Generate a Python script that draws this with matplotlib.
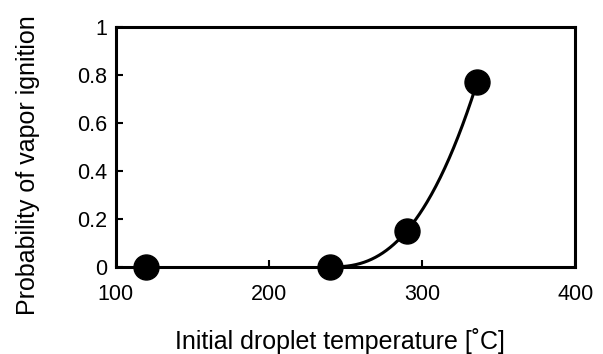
import numpy as np
import matplotlib
matplotlib.use("Agg")
import matplotlib.pyplot as plt

plt.rcParams["font.family"] = ["Liberation Sans", "DejaVu Sans"]

# Measured points
temps = [120, 240, 290, 336]
probs = [0.0, 0.0, 0.15, 0.77]

# Fit curve p = a * (T - T0)^n through the ignition points (T0 = 240)
t0 = temps[1]
n = np.log(probs[3] / probs[2]) / np.log((temps[3] - t0) / (temps[2] - t0))
a = probs[2] / (temps[2] - t0) ** n
t_fit = np.linspace(t0, temps[3], 200)
p_fit = a * (t_fit - t0) ** n

fig = plt.figure(figsize=(6.03, 3.54), dpi=100)
ax = fig.add_axes([0.192, 0.246, 0.762, 0.678])

ax.plot(t_fit, p_fit, color="black", lw=2.2, zorder=3, clip_on=False)
ax.plot(temps, probs, "o", color="black", ms=18, zorder=4, clip_on=False)

ax.set_xlim(100, 400)
ax.set_ylim(0, 1)
ax.set_xticks([100, 200, 300, 400])
ax.set_yticks([0, 0.2, 0.4, 0.6, 0.8, 1])
ax.set_yticklabels(["0", "0.2", "0.4", "0.6", "0.8", "1"])

for s in ax.spines.values():
    s.set_linewidth(2.2)

ax.tick_params(axis="both", direction="in", length=5, width=1.5, labelsize=15.5)
ax.tick_params(axis="x", pad=12)
ax.tick_params(axis="y", pad=6)

ax.set_xlabel("Initial droplet temperature [˚C]", fontsize=18)
ax.set_ylabel("Probability of vapor ignition", fontsize=18)
ax.xaxis.label.set_va("center")
ax.yaxis.label.set_va("center")
ax.xaxis.set_label_coords(0.488, -0.31)
ax.yaxis.set_label_coords(-0.192, 0.425)

fig.savefig("out.png", dpi=100)
